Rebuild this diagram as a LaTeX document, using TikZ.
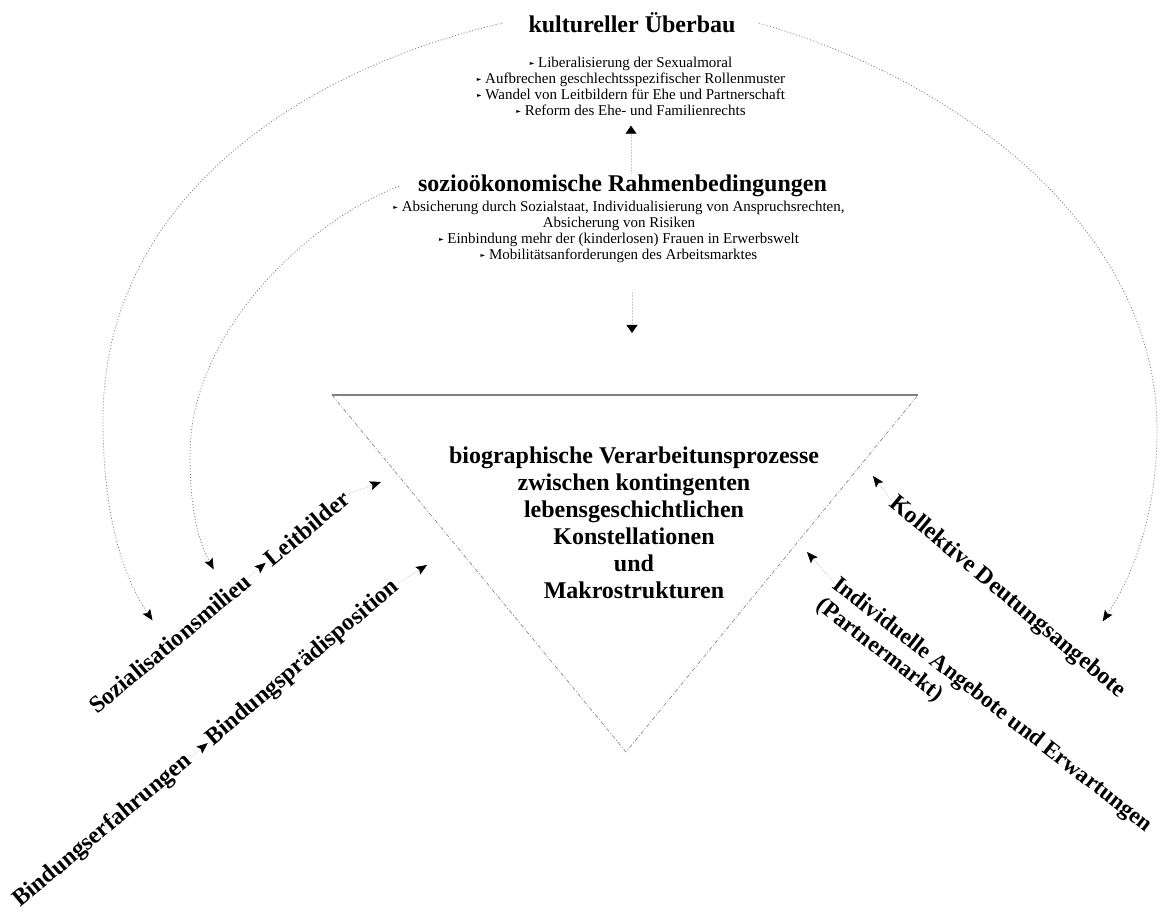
\documentclass[tikz,border=0pt]{standalone}
\usepackage{fontspec}
\setmainfont{Liberation Serif}
\newfontfamily\symb{DejaVu Sans}
\usetikzlibrary{arrows.meta,calc}
\definecolor{strich}{HTML}{7F7F7F}
\newcommand{\aufz}{{\symb\fontsize{6pt}{6pt}\selectfont\raisebox{1.5pt}{►}}\ }

\begin{document}
\begin{tikzpicture}[x=1pt,y=1pt,
    titel/.style={font=\fontsize{24pt}{27pt}\selectfont\bfseries, inner sep=2pt},
    liste/.style={font=\fontsize{15pt}{16pt}\selectfont, align=center, inner sep=0pt},
    schraeg/.style={font=\fontsize{24pt}{27pt}\selectfont\bfseries, inner sep=2pt, anchor=base west},
    bogen/.style={draw=strich, line width=0.8pt, dash pattern=on 1pt off 2pt,
      -{Stealth[length=11pt,width=9pt,inset=2pt,color=black]}},
    pfeil/.style={draw=strich!70, line width=0.5pt, densely dotted,
      -{Stealth[length=11pt,width=9pt,inset=2pt,color=black]}},
    hochpfeil/.style={draw=strich!40, line width=0.5pt, densely dotted,
      -{Triangle[length=8pt,width=11pt,color=black]}}]
    \useasboundingbox (0,0) rectangle (1162,918);

    % oben
    \node[titel, anchor=base] (kult) at (632,885) {kultureller Überbau};
    \node[liste, anchor=north] (kultlist) at (631,861.2) {\aufz Liberalisierung der Sexualmoral\\
      \aufz Aufbrechen geschlechtsspezifischer Rollenmuster\\
      \aufz Wandel von Leitbildern für Ehe und Partnerschaft\\
      \aufz Reform des Ehe- und Familienrechts};
    \node[titel, anchor=base] (sozio) at (622.5,726) {sozioökonomische Rahmenbedingungen};
    \node[liste, anchor=north] (sozlist) at (619,717.2) {\aufz Absicherung durch Sozialstaat, Individualisierung von Anspruchsrechten,\\
      Absicherung von Risiken\\
      \aufz Einbindung mehr der (kinderlosen) Frauen in Erwerbswelt\\
      \aufz Mobilitätsanforderungen des Arbeitsmarktes};

    % Dreieck
    \coordinate (dl) at (332,523);
    \coordinate (dr) at (918,523);
    \coordinate (du) at (626,166);
    \draw[strich, line width=1.2pt] (dl) -- (dr);
    \draw[strich, line width=0.6pt, dash pattern=on 4pt off 2pt on 1pt off 2pt] (dl) -- (du) -- (dr);
    \node[font=\fontsize{24pt}{27pt}\selectfont\bfseries, align=center, inner sep=0pt, anchor=north] (biogr)
      at (634,471.2) {biographische Verarbeitunsprozesse\\zwischen kontingenten\\lebensgeschichtlichen\\Konstellationen\\und\\Makrostrukturen};

    \draw[hochpfeil, shorten >=10pt] (kultlist.south |- sozio.north) -- (kultlist.south);
    \draw[hochpfeil, shorten <=29pt, shorten >=62pt] (sozlist.south -| kult) -- (dl -| kult);

    % links
    \node[schraeg, rotate=40] (milieu) at (95.5,201.7) {Sozialisationsmilieu};
    \node[schraeg, rotate=40] (leit) at ($(milieu.base east)+(40:22pt)$) {Leitbilder};
    \node[schraeg, rotate=40] (bind) at (18.5,8.7) {Bindungserfahrungen};
    \node[schraeg, rotate=40] (bindp) at ($(bind.base east)+(40:22pt)$) {Bindungsprädisposition};
    \coordinate (leitziel) at (381,436);
    \coordinate (bindziel) at (427,353);
    \draw[pfeil] (milieu.east) -- (leit.west);
    \draw[pfeil] (leit.east) -- (leitziel);
    \draw[pfeil] (bind.east) -- (bindp.west);
    \draw[pfeil] (bindp.east) -- (bindziel);

    % rechts
    \node[schraeg, rotate=-40] (koll) at (887,414) {Kollektive Deutungsangebote};
    \node[schraeg, rotate=-38, font=\fontsize{23pt}{26pt}\selectfont\bfseries] (indiv) at (830,332) {Individuelle Angebote und Erwartungen};
    \node[schraeg, rotate=-38, font=\fontsize{23pt}{26pt}\selectfont\bfseries] (partner) at ([shift={(-128:26pt)}]indiv.base west) {(Partnermarkt)};
    \coordinate (kollziel) at (873,442);
    \coordinate (indivziel) at (807,366);
    \draw[pfeil] (koll.west) -- (kollziel);
    \draw[pfeil] (indiv.west) -- (indivziel);

    % Boegen
    \draw[bogen, shorten >=18pt] ([xshift=-24pt]kult.west) .. controls (300,848) and (103,718) .. (103,498)
      .. controls (103,398) and (125,338) .. (milieu.north);
    \draw[bogen, shorten >=18pt] ([xshift=-17pt]sozio.west) .. controls (310,698) and (190,588) .. (190,463)
      .. controls (190,408) and (198,378) .. ($(milieu.north)!0.75!(milieu.north east)$);
    \draw[bogen, shorten >=30pt] ([xshift=21pt]kult.east) .. controls (960,838) and (1157,688) .. (1157,488)
      .. controls (1157,398) and (1130,338) .. ($(koll.north)!0.6!(koll.north east)$);
  \end{tikzpicture}
\end{document}
